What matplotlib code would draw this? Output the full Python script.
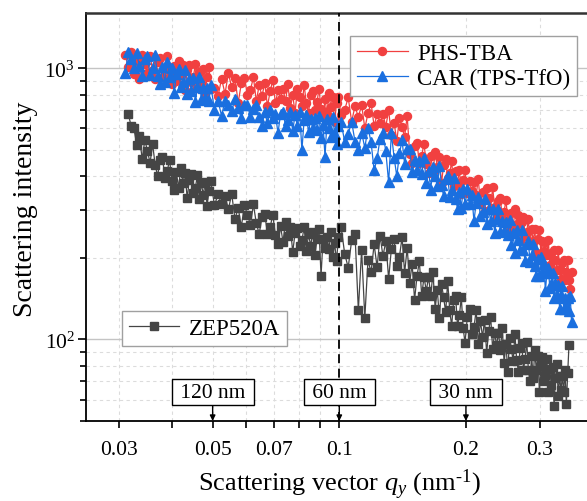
import matplotlib
matplotlib.use("Agg")
import matplotlib.pyplot as plt
from matplotlib.ticker import FixedLocator, NullFormatter, FixedFormatter

plt.rcParams['font.family'] = ['Liberation Serif', 'DejaVu Serif']
plt.rcParams['mathtext.fontset'] = 'custom'
plt.rcParams['mathtext.rm'] = 'Liberation Serif'
plt.rcParams['mathtext.it'] = 'Liberation Serif:italic'

# scattering vector q (nm^-1)
q = [0.0310, 0.0315, 0.0320, 0.0325, 0.0330, 0.0335, 0.0340, 0.0345, 0.0350, 0.0355,
     0.0360, 0.0365, 0.0370, 0.0375, 0.0380, 0.0385, 0.0390, 0.0395, 0.0400, 0.0405,
     0.0410, 0.0415, 0.0420, 0.0425, 0.0430, 0.0435, 0.0440, 0.0445, 0.0450, 0.0455,
     0.0460, 0.0465, 0.0470, 0.0475, 0.0480, 0.0485, 0.0490, 0.0495,
     0.0505, 0.0515, 0.0525, 0.0535, 0.0545, 0.0555, 0.0565, 0.0575, 0.0585, 0.0595,
     0.0605, 0.0615, 0.0625, 0.0635, 0.0645, 0.0655, 0.0665, 0.0675, 0.0685, 0.0695,
     0.0705, 0.0715, 0.0725, 0.0735, 0.0745, 0.0755, 0.0765, 0.0775, 0.0785, 0.0795,
     0.0805, 0.0815, 0.0825, 0.0835, 0.0845, 0.0855, 0.0865, 0.0875, 0.0885, 0.0895,
     0.0905, 0.0915, 0.0925, 0.0935, 0.0945, 0.0955, 0.0965, 0.0975, 0.0985, 0.0995,
     0.101, 0.103, 0.105, 0.107, 0.109, 0.111, 0.113, 0.115, 0.117, 0.119,
     0.121, 0.123, 0.125, 0.127, 0.129, 0.131, 0.133, 0.135, 0.137, 0.139,
     0.141, 0.143, 0.145, 0.147, 0.149, 0.151, 0.153, 0.155, 0.157, 0.159,
     0.161, 0.163, 0.165, 0.167, 0.169, 0.171, 0.173, 0.175, 0.177, 0.179,
     0.181, 0.183, 0.185, 0.187, 0.189, 0.191, 0.193, 0.195, 0.197, 0.199,
     0.2015, 0.2040, 0.2065, 0.2090, 0.2115, 0.2140, 0.2165, 0.2190, 0.2215, 0.2240,
     0.2265, 0.2290, 0.2315, 0.2340, 0.2365, 0.2390, 0.2415, 0.2440, 0.2465, 0.2490,
     0.2515, 0.2540, 0.2565, 0.2590, 0.2615, 0.2640, 0.2665, 0.2690, 0.2715, 0.2740,
     0.2765, 0.2790, 0.2815, 0.2840, 0.2865, 0.2890, 0.2915, 0.2940, 0.2965, 0.2990,
     0.3015, 0.3040, 0.3065, 0.3090, 0.3115, 0.3140, 0.3165, 0.3190, 0.3215, 0.3240,
     0.3265, 0.3290, 0.3315, 0.3340, 0.3365, 0.3390, 0.3415, 0.3440, 0.3465, 0.3490,
     0.3515, 0.3540, 0.3565]

phs_tba = [1124, 1014, 1150, 953, 1064, 914, 1117, 1040, 964, 1110,
           986, 912, 1058, 1094, 930, 996, 1110, 938, 875, 1017,
           896, 1067, 946, 1028, 833, 982, 1033, 887, 931, 1038,
           847, 973, 885, 991, 813, 928, 1014, 838,
           846, 788, 916, 806, 959, 850, 923, 746, 880, 925,
           794, 832, 928, 756, 868, 789, 883, 724, 825, 902,
           744, 829, 771, 840, 757, 874, 713, 797, 686, 838,
           781, 725, 868, 742, 687, 798, 825, 702, 752, 839,
           710, 662, 771, 680, 810, 718, 782, 633, 747, 787,
           672, 702, 781, 635, 727, 659, 735, 601, 682, 744,
           612, 678, 628, 679, 610, 699, 568, 630, 539, 656,
           607, 560, 667, 485, 446, 515, 530, 447, 476, 528,
           443, 411, 475, 416, 492, 433, 469, 377, 441, 461,
           393, 410, 454, 368, 419, 378, 421, 343, 388, 420,
           346, 383, 353, 381, 341, 390, 316, 350, 297, 361,
           333, 306, 364, 307, 282, 324, 332, 280, 296, 327,
           274, 254, 293, 256, 303, 267, 288, 231, 270, 282,
           241, 250, 278, 224, 255, 230, 256, 208, 235, 254,
           208, 230, 211, 228, 204, 233, 188, 208, 177, 214,
           197, 180, 214, 181, 167, 192, 197, 166, 178, 197,
           165, 153, 177]

car_tps = [959, 1150, 1084, 1001, 1140, 1017, 936, 1083, 1115, 943,
           1006, 1118, 940, 873, 1011, 887, 1052, 928, 1005, 809,
           950, 996, 851, 888, 986, 801, 916, 828, 923, 753,
           855, 930, 764, 846, 780, 844, 756, 865,
           701, 760, 668, 760, 730, 698, 770, 711, 655, 730,
           735, 662, 706, 735, 661, 615, 690, 626, 700, 657,
           680, 576, 679, 690, 615, 644, 690, 587, 675, 614,
           688, 500, 645, 670, 582, 648, 601, 655, 590, 665,
           554, 619, 470, 649, 604, 559, 660, 572, 528, 614,
           632, 536, 572, 636, 536, 498, 579, 509, 604, 534,
           420, 467, 549, 577, 494, 380, 575, 468, 400, 486,
           542, 443, 505, 504, 414, 458, 422, 456, 408, 466,
           379, 419, 357, 433, 400, 368, 436, 370, 338, 390,
           399, 336, 356, 394, 330, 304, 350, 305, 360, 316,
           358, 315, 340, 273, 319, 335, 285, 296, 329, 266,
           303, 274, 303, 247, 279, 302, 248, 274, 251, 271,
           242, 276, 223, 247, 209, 254, 233, 214, 253, 214,
           195, 225, 230, 193, 204, 224, 187, 172, 198, 171,
           201, 176, 189, 151, 176, 183, 155, 160, 176, 142,
           161, 144, 159, 129, 146, 158, 129, 142, 132, 142,
           127, 144, 116]

# ZEP520A covers q[1] .. q[198]
zep520a = [680, 614, 600, 523, 561, 462, 545, 495, 448, 525,
           441, 401, 459, 469, 393, 417, 460, 385, 357, 413,
           362, 429, 378, 410, 331, 387, 407, 348, 363, 404,
           329, 376, 341, 380, 311, 353, 384,
           312, 343, 315, 339, 302, 344, 278, 306, 260, 313,
           288, 265, 315, 268, 245, 282, 290, 245, 260, 288,
           242, 225, 261, 229, 272, 240, 260, 210, 246, 258,
           221, 232, 259, 212, 244, 222, 248, 204, 234, 255,
           172, 235, 218, 239, 215, 248, 202, 226, 194, 238,
           260, 207, 184, 232, 244, 128, 214, 120, 196, 177,
           224, 185, 241, 203, 230, 167, 216, 234, 187, 202,
           238, 176, 218, 162, 190, 140, 171, 194, 145, 170,
           151, 170, 145, 177, 130, 152, 120, 160, 143, 126,
           164, 128, 112, 140, 145, 112, 123, 143, 110, 97,
           121, 130, 105, 111, 128, 96, 117, 102, 118, 89,
           107, 121, 92, 106, 95, 106, 91, 110, 82, 96,
           76, 101, 92, 83, 105, 84, 76, 93, 97, 77,
           85, 98, 77, 70, 87, 72, 91, 77, 87, 64,
           80, 86, 70, 74, 85, 64, 78, 68, 79, 57,
           72, 81, 62, 73, 65, 73, 64, 77, 58, 75,
           95]

size_labels = ['120 nm', '60 nm', '30 nm']
size_q = [0.05, 0.1, 0.2]

red = '#F14040'
blue = '#1A6FDF'
grey = '#454545'

fig = plt.figure(figsize=(5.87, 5.02), dpi=100)
ax = fig.add_axes([0.1465, 0.1594, 0.863, 0.8127])

g_line, = ax.plot(q[1:199], zep520a, color=grey, lw=0.9, marker='s', ms=5.3,
                  mec=grey, mfc=grey, label='ZEP520A', zorder=3)
r_line, = ax.plot(q, phs_tba, color=red, lw=0.9, marker='o', ms=5.8,
                  mec=red, mfc=red, label='PHS-TBA', zorder=3)
b_line, = ax.plot(q, car_tps, color=blue, lw=0.9, marker='^', ms=6.6,
                  mec=blue, mfc=blue, label='CAR (TPS-TfO)', zorder=3)

ax.set_xscale('log')
ax.set_yscale('log')
ax.set_xlim(0.025, 0.4)
ax.set_ylim(50, 1600)

ax.xaxis.set_major_locator(FixedLocator([0.03, 0.05, 0.07, 0.1, 0.2, 0.3]))
ax.xaxis.set_major_formatter(FixedFormatter(['0.03', '0.05', '0.07', '0.1', '0.2', '0.3']))
ax.xaxis.set_minor_locator(FixedLocator([0.04, 0.06, 0.08, 0.09]))
ax.xaxis.set_minor_formatter(NullFormatter())

ax.tick_params(axis='both', which='major', direction='out', labelsize=15.5, width=1.2)
ax.tick_params(axis='x', which='both', length=5, width=1.2, pad=9)
ax.tick_params(axis='y', which='major', length=6, pad=2)
ax.tick_params(axis='y', which='minor', length=4, width=1.2)

ax.yaxis.grid(True, which='major', ls='-', color='#c4c4c4', lw=1)
ax.yaxis.grid(True, which='minor', ls=(0, (3, 3)), color='#dcdcdc', lw=0.8)
ax.xaxis.grid(True, which='both', ls=(0, (3, 3)), color='#dcdcdc', lw=0.8)
ax.set_axisbelow(True)

for s in ['left', 'bottom']:
    ax.spines[s].set_linewidth(1.3)
    ax.spines[s].set_color('black')
ax.spines['top'].set_linewidth(1.8)
ax.spines['top'].set_color('#333333')

ax.axvline(0.1, color='black', ls=(0, (5, 3)), lw=1.3, zorder=5)

for lab, xq in zip(size_labels, size_q):
    ax.annotate(' ' + lab + ' ', xy=(xq, 0), xycoords=('data', 'axes fraction'),
                xytext=(xq, 0.071), textcoords=('data', 'axes fraction'),
                ha='center', va='center', fontsize=15.5, zorder=6,
                bbox=dict(boxstyle='square,pad=0.15', fc='white', ec='black', lw=1),
                arrowprops=dict(arrowstyle='-|>', color='black', lw=1,
                                mutation_scale=8, shrinkA=0, shrinkB=0))

leg1 = ax.legend(handles=[r_line, b_line], loc='upper right',
                 bbox_to_anchor=(0.969, 0.944), borderaxespad=0, fontsize=16.5,
                 fancybox=False, framealpha=1, edgecolor='#a0a0a0',
                 handlelength=2.2, handletextpad=0.4, labelspacing=0.2,
                 borderpad=0.3)
leg1.get_frame().set_linewidth(1)
ax.add_artist(leg1)
leg2 = ax.legend(handles=[g_line], loc='upper left',
                 bbox_to_anchor=(0.0711, 0.2696), borderaxespad=0, fontsize=16.5,
                 fancybox=False, framealpha=1, edgecolor='#a0a0a0',
                 handlelength=2.2, handletextpad=0.4, borderpad=0.3)
leg2.get_frame().set_linewidth(1)

ax.set_ylabel('Scattering intensity', fontsize=20)
ax.yaxis.set_label_coords(-0.094, 0.522)
ax.set_xlabel(r'Scattering vector $q_y$ (nm$^{\text{-1}}$)', fontsize=19, labelpad=5)

fig.savefig('out.png', dpi=100)
